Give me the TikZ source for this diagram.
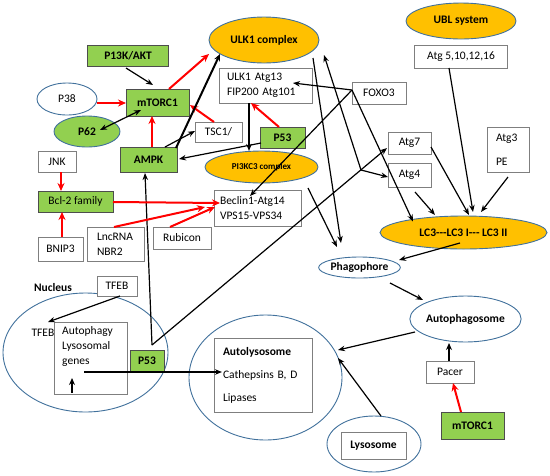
\documentclass[tikz,border=0pt]{standalone}
\usepackage{fontspec}
\setmainfont{Carlito}
\usetikzlibrary{calc,arrows.meta,shapes.geometric}
\definecolor{gfill}{HTML}{92D050}
\definecolor{gborder}{HTML}{4D4D4D}
\definecolor{ofill}{HTML}{FFC000}
\definecolor{eblue}{HTML}{41719C}
\definecolor{boxgray}{HTML}{7F7F7F}
\definecolor{redc}{HTML}{FF0000}
\begin{document}
\begin{tikzpicture}[x=1pt,y=-1pt,
  txt/.style={inner sep=0pt, font=\fontsize{11.5}{15}\selectfont},
  btxt/.style={inner sep=0pt, font=\bfseries\fontsize{11.5}{15}\selectfont},
  box/.style={draw=boxgray, line width=0.9pt, fill=white, inner sep=0pt, font=\fontsize{11.5}{15}\selectfont},
  gbox/.style={box, fill=gfill, draw=gborder, font=\bfseries\fontsize{11.5}{15}\selectfont},
  oell/.style={ellipse, draw=eblue, line width=0.9pt, fill=ofill, inner sep=0pt, font=\bfseries\fontsize{11.5}{15}\selectfont},
  well/.style={ellipse, draw=eblue, line width=0.9pt, fill=white, inner sep=0pt, font=\bfseries\fontsize{11.5}{15}\selectfont},
  blk/.style={-{Stealth[length=7pt,width=5.5pt]}, line width=1.2pt},
  thk/.style={-{Stealth[length=7pt,width=6pt]}, line width=2pt},
  redar/.style={-{Stealth[length=8pt,width=7pt]}, line width=2pt, draw=redc}]
\useasboundingbox (0,0) rectangle (550,475);

% big ellipses
\node[well, minimum width=165pt, minimum height=119pt] (nucell) at (85.5,352.5) {};
\node[well, minimum width=153pt, minimum height=125pt] (autoell) at (265.5,377.5) {};
\node[well, minimum width=94pt, minimum height=56pt] (lysell) at (374,444) {};

% top area
\node[oell, minimum width=110pt, minimum height=46pt] (ulk) at (264,40) {ULK1 complex};
\node[oell, minimum width=110pt, minimum height=36pt] (ubl) at (461,21) {UBL system};
\node[box, minimum width=93pt, minimum height=23pt] (atg5) at (461,56.5) {Atg 5,10,12,16};
\node[gbox, minimum width=81pt, minimum height=21pt] (pik) at (128,55.5) {P13K/AKT};
\node[well, font=\fontsize{11.5}{15}\selectfont, minimum width=60pt, minimum height=32pt] (p38) at (67,99) {P38};
\node[gbox, minimum width=63pt, minimum height=27pt] (mtor) at (157.5,102.5) {mTORC1};
\node[well, fill=gfill, minimum width=66pt, minimum height=31pt] (p62) at (87,131.5) {P62};
\node[box, minimum width=47pt, minimum height=20pt] (tsc) at (218.5,132) {TSC1/};
\node[box, minimum width=93pt, minimum height=35pt, inner xsep=8pt, text width=77pt, align=left] (ulkbox) at (265.5,85.5) {ULK1 Atg13\\FIP200 Atg101};
\node[box, minimum width=54pt, minimum height=22pt] (foxo) at (379,93) {FOXO3};
\node[gbox, minimum width=45pt, minimum height=21pt] (p53a) at (282.5,137.5) {P53};
\node[gbox, minimum width=57pt, minimum height=25pt] (ampk) at (148.5,159.5) {AMPK};
\node[oell, font=\bfseries\fontsize{9}{11}\selectfont, minimum width=113pt, minimum height=32pt] (pi3) at (261.5,167) {PI3KC3 complex};
\node[box, minimum width=87pt, minimum height=36pt, inner xsep=6pt, text width=75pt, align=left] (beclin) at (257.5,208) {Beclin1-Atg14\\VPS15-VPS34};
\node[box, minimum width=38pt, minimum height=21pt] (jnk) at (57,161.5) {JNK};
\node[gbox, font=\fontsize{11.5}{15}\selectfont, minimum width=75pt, minimum height=21pt] (bcl) at (75.5,201.5) {Bcl-2 family};
\node[box, minimum width=45pt, minimum height=24pt] (bnip) at (60.5,249) {BNIP3};
\node[box, minimum width=57pt, minimum height=34pt, inner xsep=10pt, text width=37pt, align=left] (lnc) at (115.5,244) {LncRNA\\NBR2};
\node[box, minimum width=58pt, minimum height=22pt] (rub) at (182,238) {Rubicon};
\node[box, minimum width=43pt, minimum height=22pt] (atg7) at (409.5,143) {Atg7};
\node[box, minimum width=43pt, minimum height=24pt] (atg4) at (409.5,175) {Atg4};
\node[box, minimum width=42pt, minimum height=45pt, inner xsep=9pt, text width=24pt, align=left] (atg3) at (508,149.5) {Atg3\\[9pt]PE};
\node[oell, minimum width=167pt, minimum height=33pt] (lc3) at (463.5,232.5) {LC3-{}-{}-LC3 I-{}-{}- LC3 II};
\node[well, minimum width=77pt, minimum height=21pt] (phago) at (359.5,267.5) {Phagophore};
\node[well, minimum width=103pt, minimum height=46pt] (autoph) at (465.5,319) {Autophagosome};
\node[box, minimum width=48pt, minimum height=22pt] (pacer) at (450,372) {Pacer};
\node[gbox, minimum width=63pt, minimum height=27pt] (mtorb) at (472.5,425.5) {mTORC1};
\node[box, font=\bfseries\fontsize{11.5}{15}\selectfont, minimum width=65pt, minimum height=27pt] (lysbox) at (373.5,445.5) {Lysosome};
\node[box, minimum width=98pt, minimum height=74pt, inner xsep=9pt, text width=80pt, align=left] (autobox) at (263,375) {\textbf{Autolysosome}\\[8pt]Cathepsins B, D\\[8pt]Lipases};

% nucleus
\node[btxt] (nuctxt) at (53,288) {Nucleus};
\node[box, minimum width=40pt, minimum height=20pt] (tfeb) at (117,286) {TFEB};
\node[txt] (tfebin) at (43,333) {TFEB};
\node[box, minimum width=73pt, minimum height=72pt] (genesbox) at (90.5,358) {};
\node[txt, anchor=north west, align=left] (genes) at (62,326) {Autophagy\\Lysosomal\\genes};
\node[gbox, minimum width=34pt, minimum height=21pt] (p53b) at (147,360.5) {P53};

% connectors
\draw[blk] ($(pik)+(-2,12.5)$) -- ($(mtor)+(-4.5,-17.5)$);
\draw[redar] ($(p38)+(30,4)$) -- ($(mtor)+(-31.5,0.5)$);
\draw[blk, {Stealth[length=7pt,width=5.5pt]}-{Stealth[length=7pt,width=5.5pt]}] ($(p62)+(13,-1.5)$) -- ($(mtor)+(-16.5,7.5)$);
\draw[redar] ($(ampk)+(3.5,-12.5)$) -- ($(mtor)+(-5.5,13.5)$);
\draw[redar] ($(tsc)+(-4.5,-10)$) -- ($(mtor)+(32.5,2.5)$);
\draw[redar] ($(mtor)+(11.5,-13.5)$) -- ($(ulk)+(-55,14)$);
\draw[thk] ($(ampk)+(27.5,-11.5)$) -- ($(ulk)+(-44,14)$);
\draw[blk] ($(ampk)+(16.5,-12.5)$) -- ($(tsc)+(-23.5,-1)$);
\draw[blk] ($(p53a)+(-21.5,5.5)$) -- ($(ampk)+(30.5,-0.5)$);
\draw[redar] ($(p53a)+(-3.5,-10.5)$) -- ($(ulkbox)+(-14.5,17.5)$);
\draw[blk] ($(ulkbox)+(-16.5,17.5)$) -- ($(pi3)+(-12.5,-16)$);
\draw[blk] ($(foxo)+(-27,-3)$) -- ($(ulkbox)+(27.5,-2.5)$);
\draw[blk] ($(foxo)+(-27,-3)$) -- ($(beclin)+(-7.5,-12)$);
\draw[blk] ($(foxo)+(-27,-3)$) -- ($(lc3)+(-50.5,-11)$);
\draw[blk] ($(ulk)+(49,18)$) -- ($(phago)+(-18.5,-24.5)$);
\draw[blk] ($(pi3)+(46.5,21)$) -- ($(phago)+(-22.5,-20.5)$);
\draw[blk] ($(p53b)+(5,-15.5)$) -- ($(ampk)+(-3.5,13.5)$);
\draw[blk] ($(p53b)+(5,-15.5)$) -- ($(atg7)+(-22.5,5)$);
\coordinate (j) at (361,170);
\draw[blk] (j) -- ($(atg4)+(-21.5,2)$);
\draw[blk] (j) -- ($(ulk)+(60,15)$);
\draw[blk] ($(atg5)+(-12,11.5)$) -- ($(lc3)+(9.5,-20.5)$);
\draw[blk] ($(atg7)+(21.5,4)$) -- ($(lc3)+(5.5,-17.5)$);
\draw[blk] ($(atg3)+(0,27.5)$) -- ($(lc3)+(17.5,-20.5)$);
\draw[blk] ($(atg4)+(5.5,17)$) -- ($(lc3)+(-28.5,-17.5)$);
\draw[blk] ($(lc3)+(-3.5,10.5)$) -- ($(phago)+(39.5,-7.5)$);
\draw[blk] ($(phago)+(30.5,15.5)$) -- ($(autoph)+(-42.5,-19)$);
\draw[blk] ($(autoph)+(-50.5,13)$) -- ($(autoell)+(72.5,-27.5)$);
\draw[blk] ($(lysell)+(7,-28)$) -- ($(autoell)+(72.5,-19.5)$);
\draw[thk] ($(pacer)+(-1,-11)$) -- ($(autoph)+(-16.5,24)$);
\draw[redar] ($(mtorb)+(-11.5,-13.5)$) -- ($(pacer)+(3,11)$);
\draw[redar] ($(jnk)+(4,10.5)$) -- ($(bcl)+(-14.5,-10.5)$);
\draw[redar] ($(bnip)+(1.5,-12)$) -- ($(bcl)+(-13.5,10.5)$);
\draw[redar] ($(bcl)+(37.5,0.5)$) -- ($(beclin)+(-37.5,-5)$);
\draw[redar] ($(lnc)+(-1.5,-17)$) -- ($(beclin)+(-52.5,-1)$);
\draw[redar] ($(rub)+(-12,-11)$) -- ($(beclin)+(-42.5,-1)$);
\draw[blk] ($(tfeb)+(3,10)$) -- ($(tfebin)+(5,-11)$);
\draw[blk] ($(genesbox)+(-6.5,14)$) -- ($(autobox)+(-41,-3)$);
\draw[thk] ($(genesbox)+(-18.5,35)$) -- ($(genesbox)+(-18.5,20)$);
\end{tikzpicture}
\end{document}
